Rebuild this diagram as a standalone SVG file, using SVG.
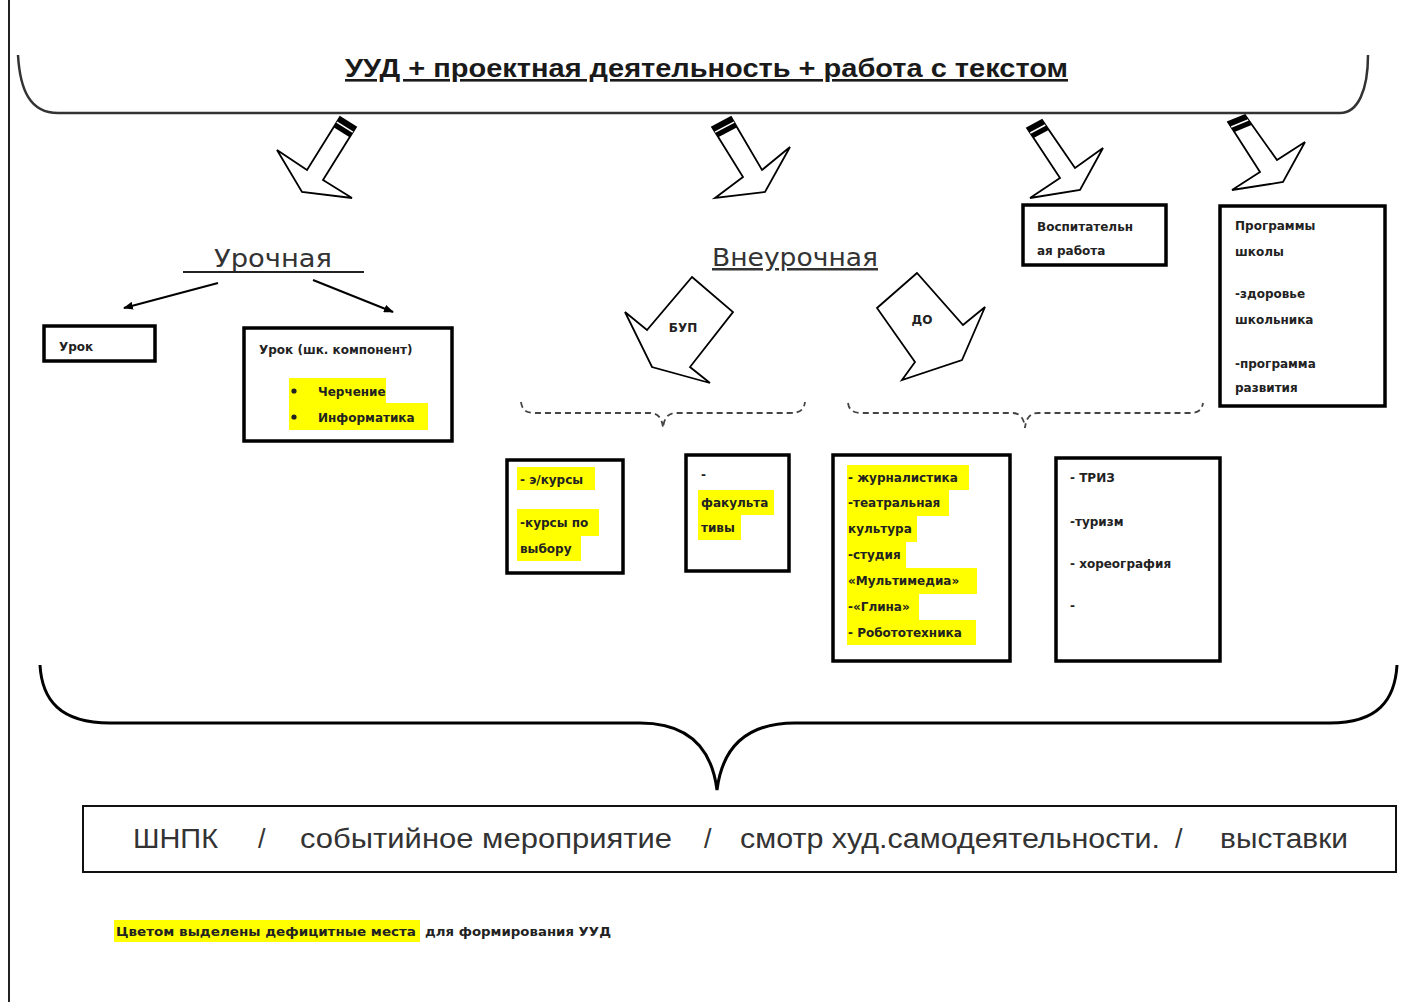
<svg xmlns="http://www.w3.org/2000/svg" width="1407" height="1002" viewBox="0 0 1407 1002">
<style>
.box{fill:#fff;stroke:#000;stroke-width:3.5}
.t{font-family:"DejaVu Sans",sans-serif;font-size:12px;font-weight:bold;fill:#222}
.hl{fill:#ffff00}
.big{font-family:"DejaVu Sans",sans-serif;font-size:25px;fill:#333}
.bot{font-family:"Liberation Sans",sans-serif;font-size:27px;fill:#333}
.dash{fill:none;stroke:#444;stroke-width:1.8;stroke-dasharray:6 4}
.blk{fill:#fff;stroke:#000;stroke-width:1.8;stroke-linejoin:miter}
.band{fill:#000}
.stripe{stroke:#fff;stroke-width:1.6}
</style>
<defs>
<marker id="ah" markerWidth="10" markerHeight="8" refX="9" refY="4" orient="auto" markerUnits="userSpaceOnUse">
<path d="M0,0 L10,4 L0,8 Z" fill="#000"/>
</marker>
</defs>
<rect width="1407" height="1002" fill="#fff"/>
<line x1="9" y1="0" x2="9" y2="1002" stroke="#222" stroke-width="2"/>

<g id="top">
<path d="M18,55 C20,90 30,113 58,113 L1340,113 C1358,113 1368,90 1368,55" fill="none" stroke="#333" stroke-width="2.5"/>
<text x="345" y="77" font-family="Liberation Sans, sans-serif" font-size="26" font-weight="bold" fill="#1a1a1a" text-decoration="underline" textLength="723" lengthAdjust="spacingAndGlyphs">УУД + проектная деятельность + работа с текстом</text>
</g>

<g id="arrow-1">
<path class="blk" d="M340,117 L307,170 L277,150 L302,192 L352,198 L323,180 L356,127 Z"/>
<path class="band" d="M340,117 L356,127 L349.6,137.2 L333.6,127.2 Z"/>
<line class="stripe" x1="336.8" y1="122.1" x2="352.8" y2="132.1"/>
</g>
<g id="arrow-2">
<path class="blk" d="M712,127 L743,177 L715,198 L765,192 L790,147 L762,170 L731,117 Z"/>
<path class="band" d="M712,127 L731,117 L737.2,127.2 L718.2,137.2 Z"/>
<line class="stripe" x1="715.1" y1="132.1" x2="734.1" y2="122.1"/>
</g>
<g id="arrow-3">
<path class="blk" d="M1027,128 L1060,178 L1030,198 L1080,190 L1103,148 L1075,168 L1042,120 Z"/>
<path class="band" d="M1027,128 L1042,120 L1048.6,130 L1033.6,138 Z"/>
<line class="stripe" x1="1030.3" y1="133" x2="1045.3" y2="125"/>
</g>
<g id="arrow-4">
<path class="blk" d="M1228,122 L1260,172 L1232,190 L1283,182 L1305,142 L1277,160 L1245,115 Z"/>
<path class="band" d="M1228,122 L1245,115 L1251.5,125.1 L1234.5,132.1 Z"/>
<line class="stripe" x1="1231.2" y1="127" x2="1248.2" y2="120"/>
</g>

<g id="urochnaya">
<text class="big" x="273" y="267" text-anchor="middle" textLength="118" lengthAdjust="spacingAndGlyphs">Урочная</text>
<line x1="183" y1="272" x2="364" y2="272" stroke="#222" stroke-width="2"/>
</g>

<g id="vneurochnaya">
<text class="big" x="712" y="266" fill="#2a3240" textLength="166" lengthAdjust="spacingAndGlyphs" text-decoration="underline">Внеурочная</text>
</g>

<g id="connectors">
<line x1="218" y1="283" x2="124" y2="308" stroke="#000" stroke-width="2" marker-end="url(#ah)"/>
<line x1="313" y1="280" x2="393" y2="312" stroke="#000" stroke-width="2" marker-end="url(#ah)"/>
<path class="dash" d="M521,402 C522,410 526,413 535,413 L650,413 C658,413 662,418 663,428 C664,418 668,413 676,413 L790,413 C800,413 804,410 805,402"/>
<path class="dash" d="M848,403 C849,410 853,413 862,413 L1012,413 C1020,413 1024,418 1025,428 C1026,418 1030,413 1038,413 L1190,413 C1198,413 1202,410 1203,403"/>
<path d="M40,665 C42,700 60,723 110,723 L640,723 C690,723 712,750 717,790 C722,750 744,723 795,723 L1330,723 C1378,723 1395,700 1397,665" fill="none" stroke="#000" stroke-width="3"/>
</g>

<g id="urok">
<rect class="box" x="44" y="326" width="111" height="35"/>
<text class="t" x="59" y="351">Урок</text>
</g>

<g id="urok-shk">
<rect class="box" x="244" y="328" width="208" height="113"/>
<text class="t" x="259" y="354">Урок (шк. компонент)</text>
<rect class="hl" x="289" y="378" width="97" height="25"/>
<rect class="hl" x="289" y="403" width="139" height="27"/>
<circle cx="294" cy="391" r="2.6" fill="#222"/>
<circle cx="294" cy="417" r="2.6" fill="#222"/>
<text class="t" x="318" y="396">Черчение</text>
<text class="t" x="318" y="422">Информатика</text>
</g>

<g id="bup">
<path class="blk" d="M692,277 L733,312 L690,367 L710,383 L652,367 L625,312 L647,330 Z"/>
<text class="t" x="683" y="332" text-anchor="middle">БУП</text>
</g>

<g id="do">
<path class="blk" d="M917,273 L877,308 L915,362 L902,380 L962,360 L985,307 L963,325 Z"/>
<text class="t" x="922" y="324" text-anchor="middle">ДО</text>
</g>

<g id="vospit">
<rect class="box" x="1023" y="205" width="143" height="60"/>
<text class="t" x="1037" y="231">Воспитательн</text>
<text class="t" x="1037" y="255">ая работа</text>
</g>

<g id="programmy">
<rect class="box" x="1220" y="206" width="165" height="200"/>
<text class="t" x="1235" y="230">Программы</text>
<text class="t" x="1235" y="256">школы</text>
<text class="t" x="1235" y="298">-здоровье</text>
<text class="t" x="1235" y="324">школьника</text>
<text class="t" x="1235" y="368">-программа</text>
<text class="t" x="1235" y="392">развития</text>
</g>

<g id="ekursy">
<rect class="box" x="507" y="460" width="116" height="113"/>
<rect class="hl" x="517" y="467" width="78" height="23"/>
<rect class="hl" x="517" y="509" width="82" height="27"/>
<rect class="hl" x="517" y="536" width="64" height="25"/>
<text class="t" x="520" y="484">- э/курсы</text>
<text class="t" x="520" y="527">-курсы по</text>
<text class="t" x="520" y="553">выбору</text>
</g>

<g id="fakult">
<rect class="box" x="686" y="455" width="103" height="116"/>
<text class="t" x="701" y="479">-</text>
<rect class="hl" x="698" y="490" width="76" height="25"/>
<rect class="hl" x="698" y="515" width="43" height="25"/>
<text class="t" x="701" y="507">факульта</text>
<text class="t" x="701" y="532">тивы</text>
</g>

<g id="do-list">
<rect class="box" x="833" y="455" width="177" height="206"/>
<rect class="hl" x="847" y="465" width="122" height="25"/>
<rect class="hl" x="847" y="490" width="102" height="26"/>
<rect class="hl" x="847" y="516" width="70" height="26"/>
<rect class="hl" x="847" y="542" width="59" height="26"/>
<rect class="hl" x="847" y="568" width="130" height="26"/>
<rect class="hl" x="847" y="594" width="72" height="26"/>
<rect class="hl" x="847" y="620" width="129" height="25"/>
<text class="t" x="848" y="482">- журналистика</text>
<text class="t" x="848" y="507">-театральная</text>
<text class="t" x="848" y="533">культура</text>
<text class="t" x="848" y="559">-студия</text>
<text class="t" x="848" y="585">«Мультимедиа»</text>
<text class="t" x="848" y="611">-«Глина»</text>
<text class="t" x="848" y="637">- Робототехника</text>
</g>

<g id="triz">
<rect class="box" x="1056" y="458" width="164" height="203"/>
<text class="t" x="1070" y="482">- ТРИЗ</text>
<text class="t" x="1070" y="526">-туризм</text>
<text class="t" x="1070" y="568">- хореография</text>
<text class="t" x="1070" y="610">-</text>
</g>

<g id="bottom-box">
<rect x="83" y="806" width="1313" height="66" fill="#fff" stroke="#111" stroke-width="2"/>
<text class="bot" x="133" y="848" textLength="85" lengthAdjust="spacingAndGlyphs">ШНПК</text>
<text class="bot" x="258" y="848">/</text>
<text class="bot" x="300" y="848" textLength="372" lengthAdjust="spacingAndGlyphs">событийное мероприятие</text>
<text class="bot" x="704" y="848">/</text>
<text class="bot" x="740" y="848" textLength="420" lengthAdjust="spacingAndGlyphs">смотр худ.самодеятельности.</text>
<text class="bot" x="1175" y="848">/</text>
<text class="bot" x="1220" y="848" textLength="128" lengthAdjust="spacingAndGlyphs">выставки</text>
</g>

<g id="note">
<rect class="hl" x="114" y="920" width="306" height="22"/>
<text class="t" x="116" y="936" textLength="300" lengthAdjust="spacingAndGlyphs">Цветом выделены  дефицитные места</text>
<text class="t" x="425" y="936" textLength="186" lengthAdjust="spacingAndGlyphs">для формирования УУД</text>
</g>
</svg>
